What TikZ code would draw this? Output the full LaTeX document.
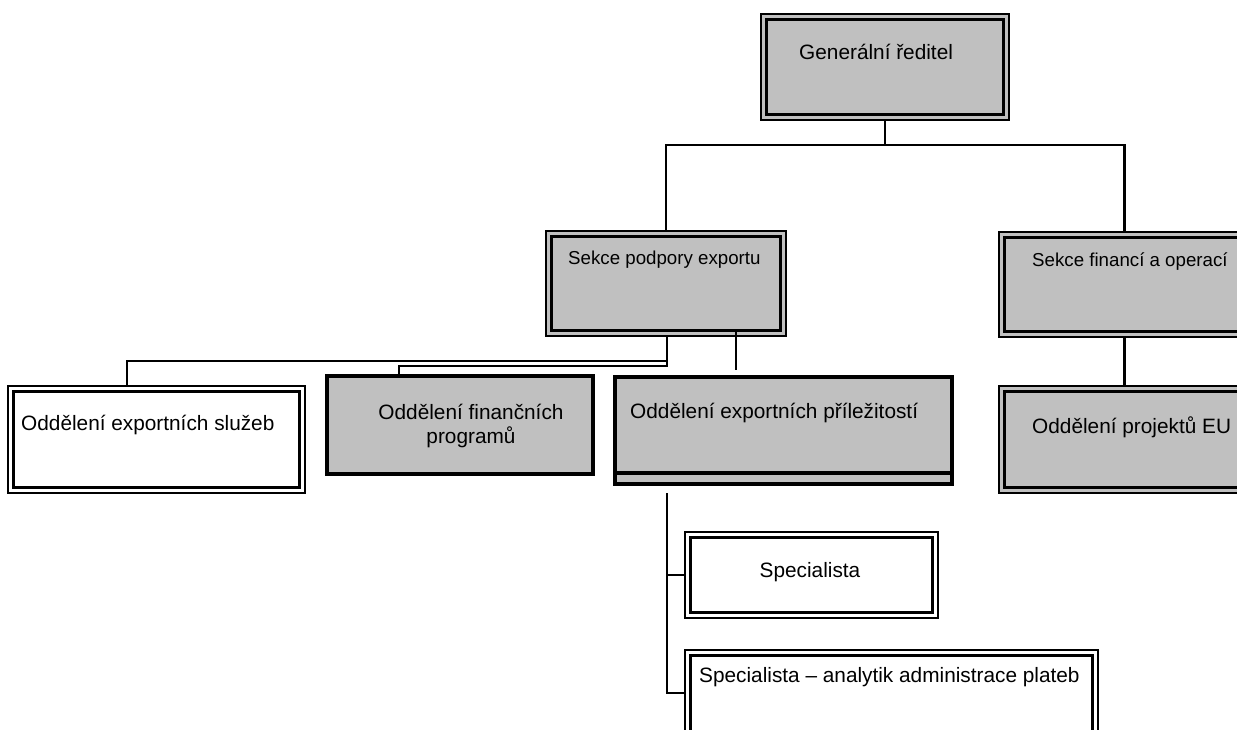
\documentclass[tikz,border=0pt]{standalone}
\usepackage{fontspec}
\setmainfont{Liberation Sans}
\definecolor{boxgray}{HTML}{C0C0C0}
\begin{document}
\begin{tikzpicture}[x=1pt,y=-1pt,
  box/.style={draw, line width=1.8pt, inner sep=0pt, outer sep=0pt},
  graybox/.style={box, fill=boxgray},
  whitebox/.style={box, fill=white},
  frame/.style={draw, line width=3.5pt},
  conn/.style={draw, line width=2.4pt},
  bigtext/.style={inner sep=0pt, font=\fontsize{20.8}{24}\selectfont},
  smalltext/.style={inner sep=0pt, font=\fontsize{18.7}{22}\selectfont}]
\useasboundingbox (0,0) rectangle (1237,729);
\clip (0,0) rectangle (1237,729);

% boxes
\node[graybox, minimum width=248, minimum height=106] (gr)   at (885,67) {};
\node[graybox, minimum width=240, minimum height=105] (sp)   at (666,283.5) {};
\node[graybox, minimum width=251, minimum height=105] (sf)   at (1124.5,284.5) {};
\node[whitebox, minimum width=297, minimum height=107] (oes) at (156.5,439.5) {};
\node[graybox, line width=3.2pt, minimum width=266, minimum height=98] (ofp) at (460,425) {};
\node[graybox, line width=3.2pt, minimum width=337, minimum height=107] (oep) at (783.5,430.5) {};
\node[graybox, minimum width=251, minimum height=107] (opeu) at (1124.5,439.5) {};
\node[whitebox, minimum width=253, minimum height=86] (spec) at (811.5,575) {};
\node[whitebox, minimum width=413, minimum height=110] (spa) at (891.5,705) {};

% inner frames of the double-bordered boxes
\foreach \b in {gr,sp,sf,oes,opeu,spec,spa}
  \draw[frame] ([shift={(5.5,5.5)}]\b.north west) rectangle ([shift={(-5.5,-5.5)}]\b.south east);
\draw[frame] ([shift={(0,-11)}]oep.south west) -- ([shift={(0,-11)}]oep.south east);

% labels
\node[bigtext, anchor=west] (gr-t) at (799,52) {Generální ředitel};
\node[smalltext, anchor=west] (sp-t) at (568,260) {Sekce podpory exportu};
\node[smalltext, anchor=west] (sf-t) at (1032,262) {Sekce financí a operací};
\node[bigtext, anchor=west] (oes-t) at (21,425) {Oddělení exportních služeb};
\node[bigtext, align=center] (ofp-t) at (471,426) {Oddělení finančních\\programů};
\node[bigtext, anchor=west] (oep-t) at (630,413) {Oddělení exportních příležitostí};
\node[bigtext, anchor=west] (opeu-t) at (1032,427) {Oddělení projektů EU};
\node[bigtext] (spec-t) at (810,572) {Specialista};
\node[bigtext, anchor=west] (spa-t) at (699,677) {Specialista – analytik administrace plateb};

% connectors
\draw[conn] (gr.south) -- ++(0,25) coordinate (bus);
\draw[conn] (sp.north) |- (bus) -| (sf.north);
\draw[conn] (sf.south) -- (opeu.north);
\draw[conn] ([shift={(1,0)}]sp.south) -- ++(0,30) -| ([shift={(-61,0)}]ofp.north);
\draw[conn] ([shift={(1,25)}]sp.south) -| ([shift={(-29.5,0)}]oes.north);
\draw[conn] ([shift={(70,-7)}]sp.south) -- ([shift={(70,-7)}]sp.south |- oep.north);
\coordinate (trunk) at ([shift={(-116.5,9)}]oep.south);
\draw[conn] (trunk) |- (spec.west);
\draw[conn] (trunk) |- ([shift={(0,-12)}]spa.west);
\end{tikzpicture}
\end{document}
